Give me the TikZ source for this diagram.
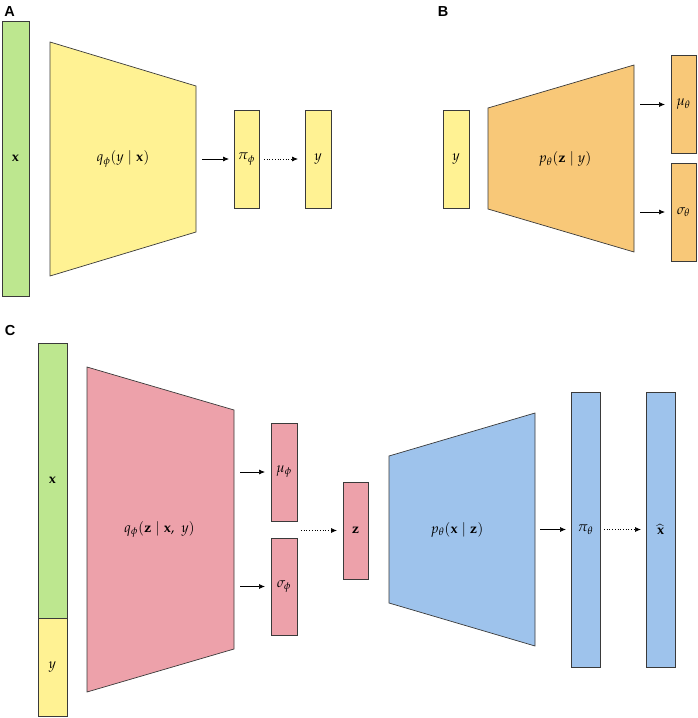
\documentclass[tikz,border=0pt]{standalone}
\usepackage{mathpazo}
\usepackage{fontspec}
\newfontfamily\panelfont{Liberation Sans}
\usetikzlibrary{arrows.meta}
\definecolor{cgreen}{HTML}{BDE78F}
\definecolor{cyellow}{HTML}{FFF293}
\definecolor{corange}{HTML}{F8C878}
\definecolor{cpink}{HTML}{EDA1AA}
\definecolor{cblue}{HTML}{9EC3EC}
\definecolor{edge}{HTML}{3A3A3A}
\begin{document}
\begin{tikzpicture}[x=1pt,y=-1pt,
  box/.style={draw=edge, line width=0.7pt, inner sep=0pt, outer sep=0pt,
    font=\fontsize{14}{16}\selectfont},
  trap/.style={draw=edge, line width=0.7pt, line join=miter},
  tlabel/.style={inner sep=0pt, outer sep=0pt, minimum height=20pt,
    font=\fontsize{14}{16}\selectfont},
  arr/.style={-{Latex[length=6pt,width=5pt]}, line width=0.7pt, black},
  darr/.style={arr, dotted},
  panel/.style={font=\panelfont\bfseries\fontsize{14.5}{16}\selectfont, inner sep=0pt}]
\useasboundingbox (0,0) rectangle (697,718);

% ---------- Panel A ----------
\node[panel] (labA) at (9.5,12) {A};
\node[box, fill=cgreen, minimum width=27pt, minimum height=275pt] (xA) at (15.5,158.5) {$\mathbf{x}$};
\draw[trap, fill=cyellow] (50,42) -- (196,86) -- (196,232) -- (50,276) -- cycle;
\node[tlabel, minimum width=146pt] (tA) at (123,159) {$q_\phi(y \mid \mathbf{x})$};
\node[box, fill=cyellow, minimum width=25pt, minimum height=98pt] (piA) at (246.5,159) {$\pi_\phi$};
\node[box, fill=cyellow, minimum width=26pt, minimum height=98pt] (yA) at (318,159) {$y$};
\draw[arr, shorten <=6pt, shorten >=5pt] (tA.east) -- (piA.west);
\draw[darr, shorten <=5pt, shorten >=7pt] (piA.east) -- (yA.west);

% ---------- Panel B ----------
\node[panel] (labB) at (443,11.5) {B};
\node[box, fill=cyellow, minimum width=26pt, minimum height=98pt] (yB) at (456,159) {$y$};
\draw[trap, fill=corange] (488,108) -- (634,65) -- (634,252) -- (488,209) -- cycle;
\node[tlabel, minimum width=138pt] (tB) at (565,159) {$p_\theta(\mathbf{z} \mid y)$};
\node[box, fill=corange, minimum width=25pt, minimum height=98pt] (muB) at (683.5,104.5) {$\mu_\theta$};
\node[box, fill=corange, minimum width=25pt, minimum height=98pt] (sigB) at (683.5,212) {$\sigma_\theta$};
\draw[arr, shorten <=6pt, shorten >=6pt] (tB.east |- muB.west) -- (muB.west);
\draw[arr, shorten <=6pt, shorten >=6pt] (tB.east |- sigB.west) -- (sigB.west);

% ---------- Panel C ----------
\node[panel] (labC) at (10,330.5) {C};
\node[box, fill=cgreen, minimum width=29pt, minimum height=275pt] (xC) at (52.5,480.5) {$\mathbf{x}$};
\node[box, fill=cyellow, minimum width=29pt, minimum height=98pt] (yC) at (52.5,667) {$y$};
\draw[trap, fill=cpink] (87,367) -- (234,410) -- (234,649) -- (87,692) -- cycle;
\node[tlabel, minimum width=149pt] (tC) at (159.5,529.5) {$q_\phi(\mathbf{z} \mid \mathbf{x},\ y)$};
\node[box, fill=cpink, minimum width=26pt, minimum height=98pt] (muC) at (284,472) {$\mu_\phi$};
\node[box, fill=cpink, minimum width=26pt, minimum height=97pt] (sigC) at (284,586.5) {$\sigma_\phi$};
\draw[arr, shorten <=6pt, shorten >=6pt] (tC.east |- muC.west) -- (muC.west);
\draw[arr, shorten <=6pt, shorten >=6pt] (tC.east |- sigC.west) -- (sigC.west);
\node[box, fill=cpink, minimum width=25pt, minimum height=97pt] (zC) at (355.5,530.5) {$\mathbf{z}$};
\draw[darr, shorten <=4pt, shorten >=6pt] (muC.east |- zC.west) -- (zC.west);
\draw[trap, fill=cblue] (389,456) -- (535,413) -- (535,646) -- (389,603) -- cycle;
\node[tlabel, minimum width=156pt] (tD) at (457,529.5) {$p_\theta(\mathbf{x} \mid \mathbf{z})$};
\node[box, fill=cblue, minimum width=29pt, minimum height=275pt] (piC) at (585.5,529.5) {$\pi_\theta$};
\node[box, fill=cblue, minimum width=29pt, minimum height=275pt] (xh) at (660.5,529.5) {$\widehat{\mathbf{x}}$};
\draw[arr, shorten <=5pt, shorten >=5pt] (tD.east) -- (piC.west);
\draw[darr, shorten <=4pt, shorten >=5pt] (piC.east) -- (xh.west);
\end{tikzpicture}
\end{document}
